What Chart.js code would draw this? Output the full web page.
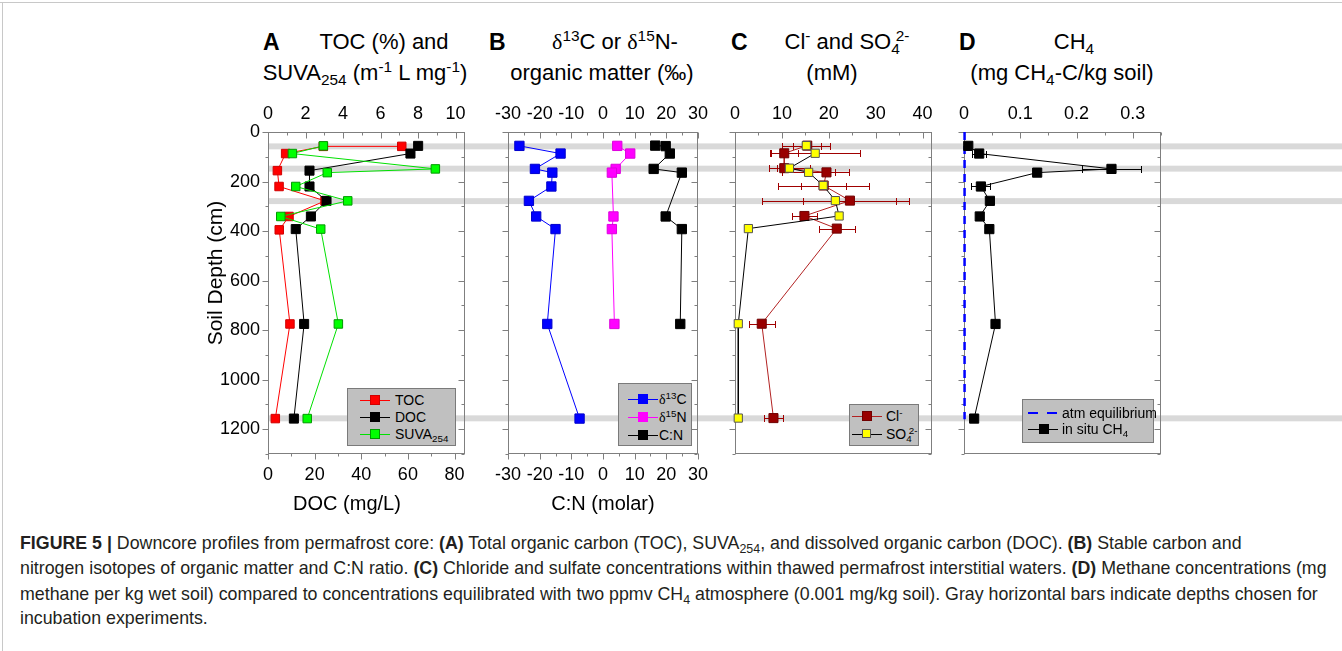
<!DOCTYPE html>
<html><head><meta charset="utf-8">
<script src="https://cdn.jsdelivr.net/npm/chart.js@4.4.1/dist/chart.umd.min.js"></script>
<style>
body{margin:0;width:1342px;height:651px;position:relative;background:#fff;font-family:"Liberation Sans",Arial,sans-serif;overflow:hidden;color:#000}
canvas{position:absolute;top:95px}
.t{position:absolute;font-size:20px;white-space:nowrap;line-height:22px;text-align:center;width:300px}
.h{font-size:22px}
.L{position:absolute;font-size:23px;font-weight:bold;line-height:22px}
sub,sup{font-size:70%;line-height:0}
sub{vertical-align:-0.3em}
sup{vertical-align:0.55em}
.dl{font-family:"Liberation Serif","DejaVu Serif",serif}
.leg{position:absolute;background:#c0c0c0;border:1px solid #7a7a7a;box-sizing:border-box}
.leg .ln{position:absolute;height:1px}
.leg .sq{position:absolute;box-sizing:border-box}
.leg .tx{position:absolute;font-size:14px;line-height:18px;white-space:nowrap}
.cap{position:absolute;left:20px;font-size:17.8px;line-height:20px;white-space:nowrap;color:#231f20}
</style></head>
<body>
<div style="position:absolute;left:0;top:2px;width:1342px;height:1px;background:#c8c8c8"></div>
<div style="position:absolute;left:2px;top:2px;width:1px;height:649px;background:#c8c8c8"></div>

<canvas id="cA"></canvas><canvas id="cB"></canvas><canvas id="cC"></canvas><canvas id="cD"></canvas>

<!-- panel titles -->
<div class="L" style="left:263px;top:31px">A</div>
<div class="t h" style="left:234px;top:31px">TOC (%) and</div>
<div class="t h" style="left:215px;top:62px">SUVA<sub>254</sub> (m<sup>-1</sup> L mg<sup>-1</sup>)</div>
<div class="L" style="left:489px;top:31px">B</div>
<div class="t h" style="left:465px;top:31px"><span class="dl">δ</span><sup>13</sup>C or <span class="dl">δ</span><sup>15</sup>N-</div>
<div class="t h" style="left:452px;top:62px">organic matter (‰)</div>
<div class="L" style="left:731px;top:31px">C</div>
<div class="t h" style="left:697px;top:31px">Cl<sup>-</sup> and SO<sub>4</sub><sup style="margin-left:-4px">2-</sup></div>
<div class="t h" style="left:682px;top:62px">(mM)</div>
<div class="L" style="left:959px;top:31px">D</div>
<div class="t h" style="left:924px;top:31px">CH<sub>4</sub></div>
<div class="t h" style="left:912px;top:62px">(mg CH<sub>4</sub>-C/kg soil)</div>

<!-- axis titles -->
<div class="t" style="left:197px;top:492px">DOC (mg/L)</div>
<div class="t" style="left:453px;top:492px">C:N (molar)</div>
<div class="t" style="left:65px;top:262px;transform:rotate(-90deg);font-size:21px">Soil Depth (cm)</div>

<!-- legends -->
<div class="leg" style="left:347px;top:388px;width:109px;height:58px">
  <div class="ln" style="left:12px;width:30px;top:11px;background:#ff0000"></div><div class="sq" style="left:22px;top:6px;width:10px;height:10px;background:#ff0000;border:1px solid #d00000"></div><div class="tx" style="left:47px;top:2px">TOC</div>
  <div class="ln" style="left:12px;width:30px;top:28px;background:#000"></div><div class="sq" style="left:22px;top:23px;width:10px;height:10px;background:#000"></div><div class="tx" style="left:47px;top:19px">DOC</div>
  <div class="ln" style="left:12px;width:30px;top:45px;background:#00e000"></div><div class="sq" style="left:22px;top:40px;width:10px;height:10px;background:#00ff00;border:1px solid #009900"></div><div class="tx" style="left:47px;top:36px">SUVA<sub>254</sub></div>
</div>
<div class="leg" style="left:618px;top:383px;width:74px;height:63px">
  <div class="ln" style="left:9px;width:30px;top:15px;background:#0000ff"></div><div class="sq" style="left:19px;top:10px;width:10px;height:10px;background:#0000ff"></div><div class="tx" style="left:40px;top:6px"><span class="dl">δ</span><sup>13</sup>C</div>
  <div class="ln" style="left:9px;width:30px;top:33px;background:#ff00ff"></div><div class="sq" style="left:19px;top:28px;width:10px;height:10px;background:#ff00ff"></div><div class="tx" style="left:40px;top:24px"><span class="dl">δ</span><sup>15</sup>N</div>
  <div class="ln" style="left:9px;width:30px;top:51px;background:#000"></div><div class="sq" style="left:19px;top:46px;width:10px;height:10px;background:#000"></div><div class="tx" style="left:40px;top:42px">C:N</div>
</div>
<div class="leg" style="left:849px;top:404px;width:70px;height:42px">
  <div class="ln" style="left:2px;width:30px;top:11px;background:#b22222"></div><div class="sq" style="left:12px;top:6px;width:10px;height:10px;background:#990000;border:1px solid #700000"></div><div class="tx" style="left:36px;top:2px">Cl<sup>-</sup></div>
  <div class="ln" style="left:2px;width:30px;top:29px;background:#000"></div><div class="sq" style="left:12px;top:24px;width:9px;height:9px;background:#ffff00;border:1px solid #555"></div><div class="tx" style="left:36px;top:20px">SO<sub>4</sub><sup style="margin-left:-3px">2-</sup></div>
</div>
<div class="leg" style="left:1022px;top:399px;width:132px;height:44px">
  <div class="ln" style="left:5px;width:10px;top:12px;height:2px;background:#0000ff"></div><div class="ln" style="left:24px;width:10px;top:12px;height:2px;background:#0000ff"></div><div class="tx" style="left:39px;top:4px">atm equilibrium</div>
  <div class="ln" style="left:5px;width:30px;top:29px;background:#000"></div><div class="sq" style="left:16px;top:24px;width:10px;height:10px;background:#000"></div><div class="tx" style="left:39px;top:20px">in situ CH<sub>4</sub></div>
</div>

<!-- caption -->
<div class="cap" style="top:533px"><b>FIGURE 5 |</b> Downcore profiles from permafrost core: <b>(A)</b> Total organic carbon (TOC), SUVA<sub>254</sub>, and dissolved organic carbon (DOC). <b>(B)</b> Stable carbon and</div>
<div class="cap" style="top:558px">nitrogen isotopes of organic matter and C:N ratio. <b>(C)</b> Chloride and sulfate concentrations within thawed permafrost interstitial waters. <b>(D)</b> Methane concentrations (mg</div>
<div class="cap" style="top:584px">methane per kg wet soil) compared to concentrations equilibrated with two ppmv CH<sub>4</sub> atmosphere (0.001 mg/kg soil). Gray horizontal bars indicate depths chosen for</div>
<div class="cap" style="top:608px">incubation experiments.</div>

<script>
// ---------- data ----------
const incubationDepths = [58, 148, 279, 1156];

// Panel A
const tocDepth   = [58, 58, 87, 156, 220, 278, 341, 395, 775, 1157];
const tocValues  = [7.13, 2.95, 0.94, 0.50, 0.59, 3.04, 1.12, 0.60, 1.17, 0.39];
const docDepth   = [56, 87, 156, 220, 278, 341, 392, 775, 1157];
const docValues  = [64.4, 61.1, 17.8, 17.8, 25.1, 18.4, 11.9, 15.5, 11.1];
const suvaDepth  = [56, 87, 149, 164, 220, 278, 341, 392, 775, 1157];
const suvaValues = [2.95, 1.30, 8.92, 3.16, 1.48, 4.25, 0.68, 2.81, 3.75, 2.09];

// Panel B
const d13cDepth  = [56, 87, 149, 164, 220, 278, 341, 392, 775, 1157];
const d13cValues = [-26.4, -13.4, -21.5, -16.0, -16.3, -23.4, -21.1, -15.0, -17.6, -7.4];
const d15nDepth  = [56, 87, 149, 164, 341, 392, 775];
const d15nValues = [4.5, 8.6, 4.0, 2.8, 3.3, 2.8, 3.6];
const cnDepth    = [55, 57, 87, 149, 164, 341, 392, 775];
const cnValues   = [16.5, 19.8, 21.1, 16.0, 24.9, 19.8, 24.9, 24.4];

// Panel C
const clDepth    = [55, 86, 146, 163, 216, 277, 339, 390, 774, 1155];
const clValues   = [15.4, 10.5, 10.5, 19.5, 18.9, 24.5, 14.8, 21.7, 5.7, 8.2];
const clErr      = [3.0, 3.0, 1.5, 4.8, 4.8, 9.9, 2.6, 3.8, 2.8, 2.1];
const so4Depth   = [55, 86, 146, 163, 216, 277, 339, 390, 774, 1155];
const so4Values  = [15.2, 17.1, 11.6, 15.7, 18.8, 21.4, 22.2, 2.85, 0.7, 0.7];
const so4Err     = [5.1, 9.5, 4.3, 5.7, 9.7, 15.6, 0, 0, 0, 0];

// Panel D
const ch4Depth   = [56, 87, 149, 164, 220, 278, 341, 392, 775, 1157];
const ch4Values  = [0.0076, 0.027, 0.262, 0.130, 0.030, 0.046, 0.028, 0.045, 0.056, 0.018];
const ch4Err     = [0, 0.012, 0.052, 0.005, 0.017, 0, 0, 0, 0, 0];
const atmDepth   = [0, 1160];
const atmValues  = [0.001, 0.001];

// tick label sets
const depthLabels = [0, 200, 400, 600, 800, 1000, 1200];

// ---------- helpers ----------
const zip = (xs, ys) => xs.map((v, i) => ({x: v, y: ys[i]}));
Chart.defaults.font.family = '"Liberation Sans", Arial, sans-serif';
Chart.defaults.color = '#000';
const BAND_HALF = 12;
const TOP_H = 37, BOT_H = 41, CH = 400;
const isMult = (v, m) => Math.abs(v / m - Math.round(v / m)) < 1e-6;

const panelSpecs = {};

const framePlugin = {
  id: 'frame',
  beforeDatasetsDraw(chart) {
    const spec = panelSpecs[chart.canvas.id];
    const {ctx, chartArea: a} = chart;
    const y = chart.scales.y;
    ctx.save();
    // incubation bands
    ctx.fillStyle = '#d9d9d9';
    const x0 = spec.bandFromArea ? a.left : 0;
    incubationDepths.forEach(d => {
      const y1 = y.getPixelForValue(d - BAND_HALF), y2 = y.getPixelForValue(d + BAND_HALF);
      ctx.fillRect(x0, y1, chart.width - x0, y2 - y1);
    });
    // frame + tick marks
    ctx.strokeStyle = '#7f7f7f'; ctx.lineWidth = 1;
    const L = Math.round(a.left) + 0.5, R = Math.round(a.right) - 0.5, T = Math.round(a.top) + 0.5, B = Math.round(a.bottom) - 0.5;
    ctx.strokeRect(L, T, R - L, B - T);
    spec.marks.forEach(m => {
      const s = chart.scales[m.s];
      s.ticks.forEach(t => {
        const p = Math.round(s.getPixelForValue(t.value)) + 0.5;
        const len = m.major(t.value) ? 6 : 3;
        const sg = m.dir === 'out' ? 1 : -1;
        ctx.beginPath();
        if (m.side === 'left')   { ctx.moveTo(L, p); ctx.lineTo(L - sg * len, p); }
        if (m.side === 'right')  { ctx.moveTo(R, p); ctx.lineTo(R + sg * len, p); }
        if (m.side === 'top')    { ctx.moveTo(p, T); ctx.lineTo(p, T - sg * len); }
        if (m.side === 'bottom') { ctx.moveTo(p, B); ctx.lineTo(p, B + sg * len); }
        ctx.stroke();
      });
    });
    // error bars
    chart.data.datasets.forEach(ds => {
      if (!ds.xErr) return;
      const xs = chart.scales[ds.xAxisID || 'x'];
      ctx.strokeStyle = ds.errColor; ctx.lineWidth = 1;
      ds.data.forEach((p, k) => {
        const e = ds.xErr[k]; if (!e) return;
        const py = Math.round(y.getPixelForValue(p.y)) + 0.5;
        const xa = Math.round(xs.getPixelForValue(p.x - e)) + 0.5, xb = Math.round(xs.getPixelForValue(p.x + e)) + 0.5;
        ctx.beginPath();
        ctx.moveTo(xa, py); ctx.lineTo(xb, py);
        ctx.moveTo(xa, py - 3.5); ctx.lineTo(xa, py + 3.5);
        ctx.moveTo(xb, py - 3.5); ctx.lineTo(xb, py + 3.5);
        ctx.stroke();
      });
    });
    ctx.restore();
  }
};

function yScale(width, show) {
  return {
    type: 'linear', position: 'left', reverse: true, min: 0, max: 1300,
    grid: {display: false, drawTicks: false}, border: {display: false},
    ticks: {display: show, stepSize: 100, autoSkip: false, padding: 8, font: {size: 18},
      callback: v => depthLabels.includes(v) ? String(v) : ''},
    afterFit: s => { s.width = width; }
  };
}
function xScale(pos, min, max, step, labelStep, show, fmt) {
  return {
    type: 'linear', position: pos, min, max,
    grid: {display: false, drawTicks: false}, border: {display: false},
    ticks: {display: show, stepSize: step, autoSkip: false, includeBounds: false, maxRotation: 0,
      padding: pos === 'top' ? 7 : 10, font: {size: 18},
      callback: v => isMult(v, labelStep) ? (fmt ? fmt(v) : String(Math.round(v))) : ''},
    afterFit: s => { s.height = pos === 'top' ? TOP_H : BOT_H; }
  };
}
function ds(label, xs, ys, axis, line, fill, border, r, extra) {
  return Object.assign({label, data: zip(xs, ys), xAxisID: axis, showLine: true, borderColor: line, borderWidth: 1,
    backgroundColor: fill, pointBackgroundColor: fill, pointBorderColor: border, pointBorderWidth: 1,
    pointStyle: 'rect', pointRadius: r, tension: 0, clip: false}, extra || {});
}
function makeChart(p, datasets, scales, marks) {
  const c = document.getElementById(p.id);
  c.width = p.width; c.height = CH;
  c.style.left = p.left + 'px'; c.style.width = p.width + 'px'; c.style.height = CH + 'px';
  panelSpecs[p.id] = {bandFromArea: !!p.bandFromArea, marks};
  return new Chart(c, {
    type: 'scatter',
    data: {datasets},
    options: {
      responsive: false, animation: false, events: [], devicePixelRatio: 1,
      layout: {padding: {left: 0, right: p.padR, top: 0, bottom: 0}},
      plugins: {legend: {display: false}, tooltip: {enabled: false}},
      scales
    },
    plugins: [framePlugin]
  });
}
const maj200 = v => isMult(v, 200);
const yMarks = [{s: 'y', side: 'left', dir: 'out', major: maj200}, {s: 'y', side: 'right', dir: 'in', major: maj200}];

// ---------- Panel A ----------
makeChart({id: 'cA', left: 180, width: 305, padR: 20, bandFromArea: true}, [
  ds('SUVA254', suvaValues, suvaDepth, 'x2', '#00e000', '#00ff00', '#009900', 6),
  ds('DOC', docValues, docDepth, 'x', '#000000', '#000000', '#000000', 6.4),
  ds('TOC', tocValues, tocDepth, 'x2', '#ff0000', '#ff0000', '#d00000', 6)
], {
  y: yScale(88, true),
  x: xScale('bottom', 0, 84.5, 10, 20, true),
  x2: xScale('top', 0, 10.5, 1, 2, true)
}, yMarks.concat([
  {s: 'x', side: 'bottom', dir: 'out', major: v => isMult(v, 20)},
  {s: 'x2', side: 'top', dir: 'in', major: v => isMult(v, 2)}
]));

// ---------- Panel B ----------
makeChart({id: 'cB', left: 485, width: 233, padR: 16}, [
  ds('δ13C', d13cValues, d13cDepth, 'x2', '#0000ff', '#0000ff', '#0000cc', 6.6),
  ds('δ15N', d15nValues, d15nDepth, 'x2', '#ff00ff', '#ff00ff', '#dd00dd', 6.6),
  ds('C:N', cnValues, cnDepth, 'x', '#000000', '#000000', '#000000', 6.6)
], {
  y: yScale(20, false),
  x: xScale('bottom', -30, 30, 5, 10, true),
  x2: xScale('top', -30, 30, 5, 10, true)
}, yMarks.concat([
  {s: 'x', side: 'bottom', dir: 'out', major: v => isMult(v, 10)},
  {s: 'x2', side: 'top', dir: 'in', major: v => isMult(v, 10)}
]));

// ---------- Panel C ----------
makeChart({id: 'cC', left: 718, width: 230, padR: 16}, [
  ds('SO4', so4Values, so4Depth, 'x2', '#000000', '#ffff00', '#555555', 5.8, {xErr: so4Err, errColor: '#a00000'}),
  ds('Cl', clValues, clDepth, 'x2', '#b22222', '#990000', '#700000', 6.4, {xErr: clErr, errColor: '#a00000'})
], {
  y: yScale(17, false),
  x: xScale('bottom', 0, 42, 5, 10, false),
  x2: xScale('top', 0, 42, 5, 10, true)
}, yMarks.concat([
  {s: 'x2', side: 'top', dir: 'in', major: v => isMult(v, 10)}
]));

// ---------- Panel D ----------
makeChart({id: 'cD', left: 948, width: 394, padR: 181}, [
  ds('in situ CH4', ch4Values, ch4Depth, 'x2', '#000000', '#000000', '#000000', 6.5, {xErr: ch4Err, errColor: '#000000'}),
  ds('atm equilibrium', atmValues, atmDepth, 'x2', '#0000ff', '#0000ff', '#0000ff', 0, {borderWidth: 2.5, borderDash: [8, 6]})
], {
  y: yScale(16, false),
  x: xScale('bottom', 0, 0.35, 0.05, 0.1, false),
  x2: xScale('top', 0, 0.35, 0.05, 0.1, true, v => v === 0 ? '0' : v.toFixed(1))
}, yMarks.concat([
  {s: 'x2', side: 'top', dir: 'in', major: v => isMult(v, 0.1)}
]));
</script>
</body></html>
